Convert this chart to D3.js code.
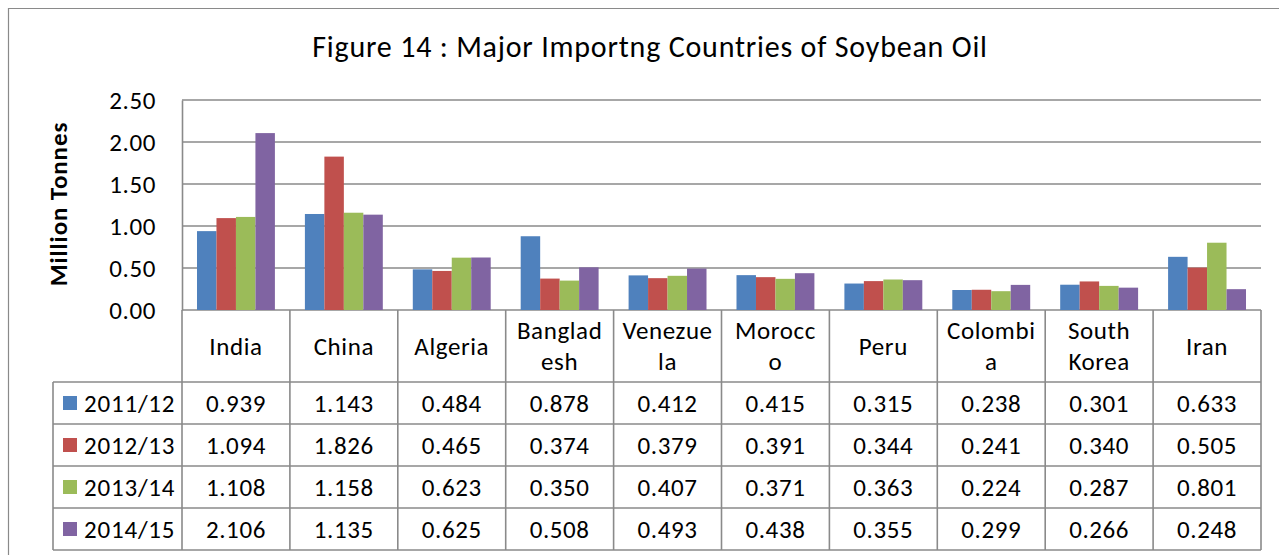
<!DOCTYPE html>
<html><head><meta charset="utf-8">
<script src="https://cdn.jsdelivr.net/npm/d3@7"></script>
<style>
html,body{margin:0;padding:0;background:#fff;}
svg{display:block;font-family:Carlito,Lato,"Open Sans",sans-serif;}
</style></head>
<body>
<svg id="chart" width="1279" height="555"></svg>
<script>
const title = "Figure 14 : Major Importng Countries of Soybean Oil";
const yAxisTitle = "Million Tonnes";
const categories = ["India","China","Algeria","Bangladesh","Venezuela","Morocco","Peru","Colombia","South Korea","Iran"];
const headerLabels = ["India","China","Algeria","Banglad\nesh","Venezue\nla","Morocc\no","Peru","Colombi\na","South\nKorea","Iran"];
const seriesNames = ["2011/12","2012/13","2013/14","2014/15"];
const seriesColors = ["#4F81BD","#C0504D","#9BBB59","#8064A2"];
const v2011 = [0.939,1.143,0.484,0.878,0.412,0.415,0.315,0.238,0.301,0.633];
const v2012 = [1.094,1.826,0.465,0.374,0.379,0.391,0.344,0.241,0.340,0.505];
const v2013 = [1.108,1.158,0.623,0.350,0.407,0.371,0.363,0.224,0.287,0.801];
const v2014 = [2.106,1.135,0.625,0.508,0.493,0.438,0.355,0.299,0.266,0.248];
const seriesValues = [v2011,v2012,v2013,v2014];
const yTicks = [0,0.5,1.0,1.5,2.0,2.5];

const svg = d3.select("#chart");
const gridColor = "#8a8a8a";
const plotL = 182, plotR = 1261, plotT = 100, plotB = 310;
const tableL = 53, headerB = 382, rowH = 42;
const fs = 25, ls = "0.6px";

// outer border
svg.append("path").attr("d","M8.5,555 V8.5 H1279").attr("fill","none").attr("stroke","#8a8a8a").attr("stroke-width",1.2);

// title
svg.append("text").attr("x",650).attr("y",57).attr("text-anchor","middle")
  .attr("font-size",30).attr("letter-spacing","0.8px").attr("fill","#000").text(title);

const x = d3.scaleBand().domain(categories).range([plotL,plotR]).paddingInner(0).paddingOuter(0);
const x1 = d3.scaleBand().domain(seriesNames).range([0,x.bandwidth()]).paddingInner(0).paddingOuter(0.77);
const y = d3.scaleLinear().domain([0,2.5]).range([plotB,plotT]);

// gridlines
svg.append("g").selectAll("line").data(yTicks).join("line")
  .attr("x1",plotL).attr("x2",plotR).attr("y1",d=>y(d)).attr("y2",d=>y(d))
  .attr("stroke",gridColor).attr("stroke-width",1.6);

// y axis
const yAxis = d3.axisLeft(y).tickValues(yTicks).tickFormat(d3.format(".2f")).tickSize(0).tickPadding(26);
const gy = svg.append("g").attr("transform",`translate(${plotL},0)`).call(yAxis);
gy.select(".domain").attr("stroke",gridColor).attr("stroke-width",1.6);
gy.selectAll("text").attr("font-size",fs).attr("letter-spacing",ls).attr("fill","#000").attr("font-family","Carlito,Lato,sans-serif");

svg.append("text").attr("transform",`translate(67,204) rotate(-90)`).attr("text-anchor","middle")
  .attr("font-size",25).attr("letter-spacing","0.9px").attr("font-weight","bold").attr("fill","#000").text(yAxisTitle);

// bars
const rows = [];
seriesValues.forEach((vals,si)=>vals.forEach((v,ci)=>rows.push({s:seriesNames[si],si,c:categories[ci],v})));
svg.append("g").selectAll("rect").data(rows).join("rect")
  .attr("x",d=>x(d.c)+x1(d.s)).attr("width",x1.bandwidth())
  .attr("y",d=>y(d.v)).attr("height",d=>y(0)-y(d.v))
  .attr("fill",d=>seriesColors[d.si]);

// table
const tg = svg.append("g");
const lineAttr = sel=>sel.attr("stroke",gridColor).attr("stroke-width",1.6);
const tableB = headerB + rowH*seriesNames.length;
const bounds = categories.map(c=>x(c)).concat([plotR]);
bounds.forEach(bx=>{
  tg.append("line").attr("x1",bx).attr("x2",bx).attr("y1",plotB).attr("y2",tableB).call(lineAttr);
});
tg.append("line").attr("x1",tableL).attr("x2",tableL).attr("y1",headerB).attr("y2",tableB).call(lineAttr);
d3.range(seriesNames.length+1).forEach(i=>{
  const yy = headerB + i*rowH;
  tg.append("line").attr("x1",tableL).attr("x2",plotR).attr("y1",yy).attr("y2",yy).call(lineAttr);
});
categories.forEach((c,ci)=>{
  const lines = headerLabels[ci].split("\n");
  const cx = x(c)+x.bandwidth()/2;
  const cy = (plotB+headerB)/2;
  const lh = 31;
  lines.forEach((ln,li)=>{
    tg.append("text").attr("x",cx).attr("y",cy + (li-(lines.length-1)/2)*lh)
      .attr("dy","0.35em").attr("text-anchor","middle").attr("font-size",fs).attr("letter-spacing",ls).attr("fill","#000").text(ln);
  });
});
seriesNames.forEach((s,si)=>{
  const cy = headerB + si*rowH + rowH/2;
  tg.append("rect").attr("x",63).attr("y",cy-7).attr("width",14).attr("height",14).attr("fill",seriesColors[si]);
  tg.append("text").attr("x",84).attr("y",cy).attr("dy","0.35em").attr("font-size",fs).attr("letter-spacing","0.8px").attr("fill","#000").text(s);
  seriesValues[si].forEach((v,ci)=>{
    tg.append("text").attr("x",x(categories[ci])+x.bandwidth()/2).attr("y",cy).attr("dy","0.35em")
      .attr("text-anchor","middle").attr("font-size",fs).attr("letter-spacing",ls).attr("fill","#000").text(d3.format(".3f")(v));
  });
});
</script>
</body></html>
